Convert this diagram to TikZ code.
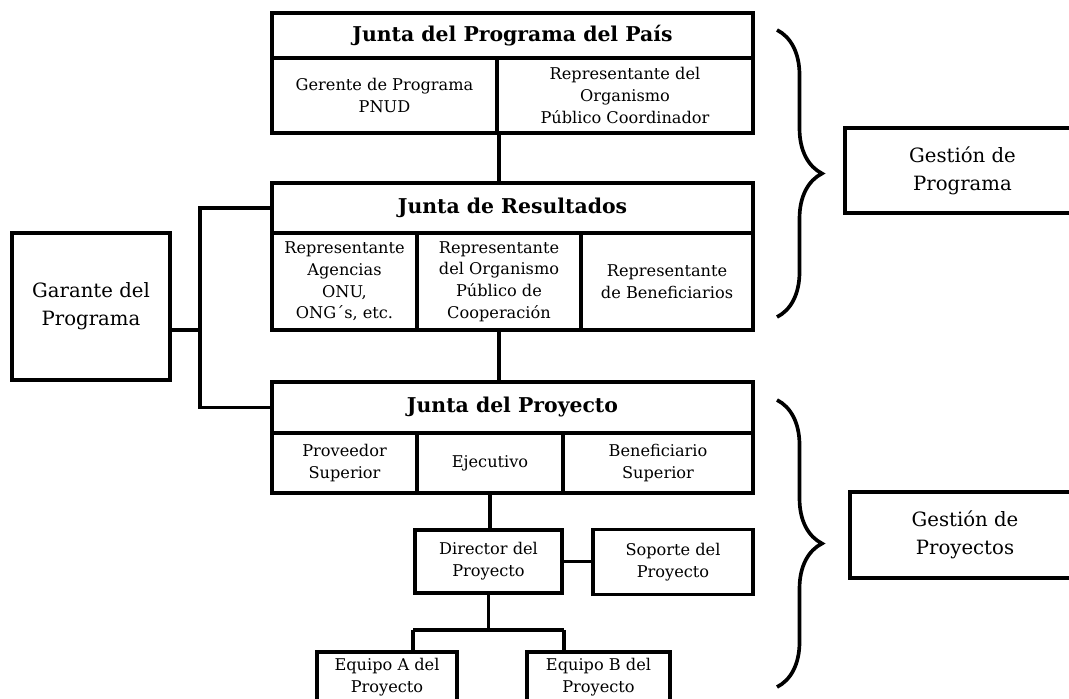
\documentclass[tikz,border=0pt]{standalone}
\usepackage{fontspec}
\setmainfont{DejaVu Serif}
\usepackage{tikz}
\usetikzlibrary{positioning, calc, decorations.pathreplacing}
\tikzset{
  headbox/.style={
    rectangle, draw=black, line width=2.6pt,
    minimum width=12.025cm, minimum height=#1,
    text centered, font=\fontsize{14.5}{17}\selectfont\bfseries
  },
  cellbox/.style={
    rectangle, draw=black, line width=2.6pt,
    minimum width=#1, inner sep=2pt,
    text centered, align=center,
    font=\fontsize{11.5}{15.5}\selectfont
  },
  sidebox/.style={
    rectangle, draw=black, line width=2.6pt,
    minimum width=#1, inner sep=2pt,
    text centered, align=center,
    font=\fontsize{14}{20}\selectfont
  },
  linkline/.style={line width=2.6pt, color=black},
  gbrace/.style={decorate, decoration={brace, amplitude=1.125cm},
    line width=2.6pt},
}

\begin{document}
\begin{tikzpicture}[x=0.025cm, y=-0.025cm]
  \clip (0,0) rectangle (1069,698);

  % country programme board
  \node[headbox=1.125cm] (pais) at (512.5,35.5) {Junta del Programa del País};
  \node[cellbox=5.625cm, minimum height=1.875cm] (gerente) at (384.5,95.5)
    {Gerente de Programa\\PNUD};
  \node[cellbox=6.4cm, minimum height=1.875cm] (coordinador) at (625,95.5)
    {Representante del\\Organismo\\Público Coordinador};

  % outcome board
  \node[headbox=1.25cm] (resultados) at (512.5,208) {Junta de Resultados};
  \node[cellbox=3.625cm, minimum height=2.425cm] (agencias) at (344.5,281.5)
    {Representante\\Agencias\\ONU,\\ONG´s, etc.};
  \node[cellbox=4.1cm, minimum height=2.425cm] (cooperacion) at (499,281.5)
    {Representante\\del Organismo\\Público de\\Cooperación};
  \node[cellbox=4.3cm, minimum height=2.425cm] (beneficiarios) at (667,281.5)
    {Representante\\de Beneficiarios};

  % project board
  \node[headbox=1.275cm] (proyecto) at (512.5,407.5) {Junta del Proyecto};
  \node[cellbox=3.625cm, minimum height=1.5cm] (proveedor) at (344.5,463)
    {Proveedor\\Superior};
  \node[cellbox=3.65cm, minimum height=1.5cm] (ejecutivo) at (490,463)
    {Ejecutivo};
  \node[cellbox=4.75cm, minimum height=1.5cm] (beneficiario) at (658,463)
    {Beneficiario\\Superior};

  % project management
  \node[cellbox=3.675cm, minimum height=1.575cm] (director) at (488.5,561.5)
    {Director del\\Proyecto};
  \node[cellbox=4cm, minimum height=1.625cm] (soporte) at (673,562)
    {Soporte del\\Proyecto};
  \node[cellbox=3.5cm, minimum height=1.25cm] (equipoA) at (387,677)
    {Equipo A del\\Proyecto};
  \node[cellbox=3.575cm, minimum height=1.25cm] (equipoB) at (598.5,677)
    {Equipo B del\\Proyecto};

  % programme assurance
  \node[sidebox=3.95cm, minimum height=3.675cm] (garante) at (91,306.5)
    {Garante del\\Programa};

  % right side labels
  \node[sidebox=5.875cm, minimum height=2.125cm] (gprograma) at (962.5,170.5)
    {Gestión de\\Programa};
  \node[sidebox=5.75cm, minimum height=2.15cm] (gproyectos) at (965,535)
    {Gestión de\\Proyectos};

  % connectors
  \coordinate (gjoin) at (200,330);
  \coordinate (split) at (488,630);
  \draw[linkline] (gerente.south east) -- (gerente.south east |- resultados.north);
  \draw[linkline] (cooperacion.south) -- (cooperacion.south |- proyecto.north);
  \draw[linkline] (resultados.west) -| (gjoin) |- (proyecto.west);
  \draw[linkline] (garante.east |- gjoin) -- (gjoin);
  \draw[linkline] (ejecutivo.south) -- (ejecutivo.south |- director.north);
  \draw[linkline] (director.east) -- (director.east -| soporte.west);
  \draw[linkline] (director.south) -- (director.south |- split);
  \draw[linkline] (director.south west |- split) -- (director.south east |- split);
  \draw[linkline] (director.south west |- split) -- (director.south west |- equipoA.north);
  \draw[linkline] (director.south east |- split) -- (director.south east |- equipoB.north);

  % braces
  \coordinate (b1top) at (777,30);
  \coordinate (b1bot) at (777,317);
  \coordinate (b2top) at (777,400);
  \coordinate (b2bot) at (777,687);
  \draw[gbrace] (b1top) -- (b1bot);
  \draw[gbrace] (b2top) -- (b2bot);
\end{tikzpicture}
\end{document}
